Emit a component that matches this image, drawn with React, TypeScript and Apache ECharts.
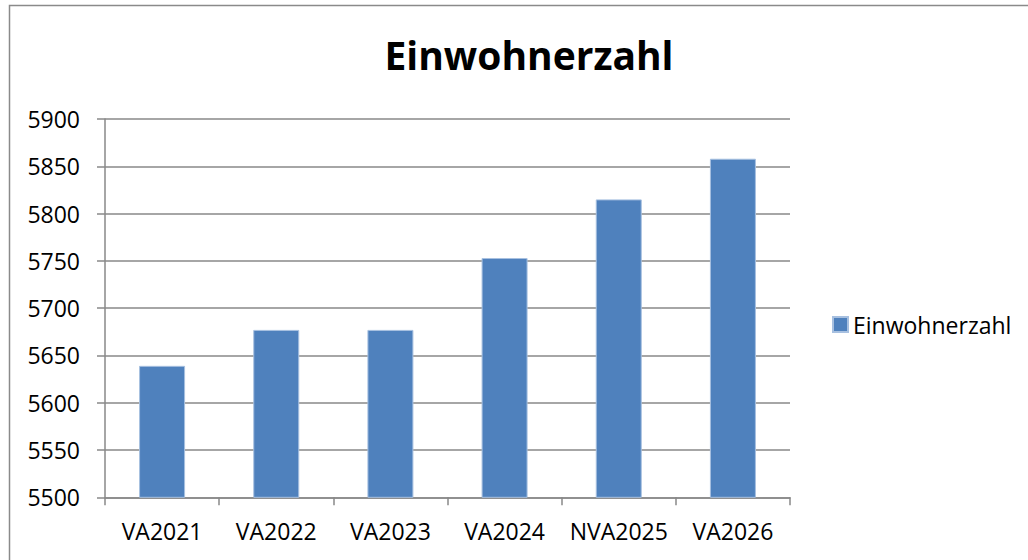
import React, { useEffect, useRef } from "react";
import * as echarts from "echarts";

const categories = ["VA2021", "VA2022", "VA2023", "VA2024", "NVA2025", "VA2026"];
const values = [5639, 5677, 5677, 5753, 5815, 5858];
const seriesName = "Einwohnerzahl";
const titleText = "Einwohnerzahl";

export default function App() {
  const ref = useRef<HTMLDivElement>(null);
  useEffect(() => {
    document.body.style.margin = "0";
    const chart = echarts.init(ref.current!, null, { renderer: "svg" });
    const font = "'Open Sans', sans-serif";
    chart.setOption({
      animation: false,
      backgroundColor: "#ffffff",
      title: {
        text: titleText,
        left: 524,
        textAlign: "center",
        top: 30,
        textStyle: { fontFamily: font, fontWeight: "bold", fontSize: 39, color: "#000" },
      },
      legend: {
        left: 832,
        top: 313,
        padding: 0,
        icon: "rect",
        itemWidth: 15,
        itemHeight: 15,
        textStyle: { fontFamily: font, fontSize: 23, color: "#000" },
        data: [seriesName],
      },
      grid: { left: 105, right: 238, top: 119, bottom: 62.7, containLabel: false },
      xAxis: {
        type: "category",
        data: categories,
        axisLine: { lineStyle: { color: "#888", width: 1.5 } },
        axisTick: { show: true, length: 8, lineStyle: { color: "#888", width: 1.5 } },
        axisLabel: { fontFamily: font, fontSize: 23, color: "#000", margin: 22, interval: 0 },
      },
      yAxis: {
        type: "value",
        min: 5500,
        max: 5900,
        interval: 50,
        axisLine: { show: true, lineStyle: { color: "#888", width: 1.5 } },
        axisTick: { show: true, length: 8, lineStyle: { color: "#888", width: 1.5 } },
        splitLine: { show: true, lineStyle: { color: "#888", width: 1.5 } },
        axisLabel: {
          fontFamily: font,
          fontSize: 23,
          color: "#000",
          margin: 25,
          formatter: (v: number) => String(v),
        },
      },
      series: [
        {
          name: seriesName,
          type: "bar",
          data: values,
          barWidth: 46,
          itemStyle: { color: "#4F81BD", borderColor: "#A7C0E0", borderWidth: 1 },
        },
      ],
      graphic: [
        {
          type: "rect",
          shape: { x: 9.5, y: 5.5, width: 1040, height: 580 },
          style: { fill: "none", stroke: "#8a8a8a", lineWidth: 1.5 },
          silent: true,
        },
      ],
    });
    return () => chart.dispose();
  }, []);
  return (
    <div
      ref={ref}
      style={{ position: "fixed", left: 0, top: 0, width: 1028, height: 560 }}
    />
  );
}
